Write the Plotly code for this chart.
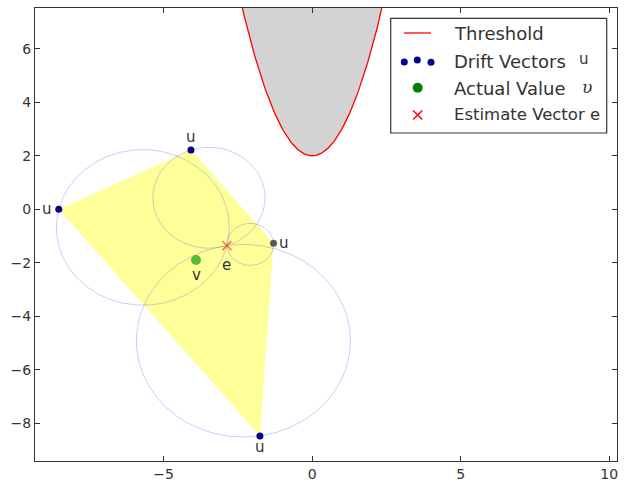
import numpy as np
import plotly.graph_objects as go

# ---------------- data ----------------
drift_x = [-8.53, -4.08, -1.30, -1.76]
drift_y = [0.00, 2.22, -1.27, -8.48]
drift_colors = ["#00008B", "#00008B", "#5a5a5a", "#00008B"]
actual_x = [-3.91]
actual_y = [-1.90]
estimate_x = [-2.87]
estimate_y = [-1.36]
threshold_a = 1.0   # threshold surface: y = a*x^2 + c
threshold_c = 2.0

x_ticks = [-5, 0, 5, 10]
y_ticks = [-8, -6, -4, -2, 0, 2, 4, 6]
x_range = [-9.33, 10.26]
y_range = [-9.42, 7.53]

FONT = "DejaVu Sans"
TXT = "#333333"

fig = go.Figure()

# threshold curve + gray infeasible region
tx = np.linspace(-2.7, 2.7, 241)
ty = threshold_a * tx ** 2 + threshold_c
fig.add_trace(go.Scatter(x=tx, y=ty, fill="toself", fillcolor="#d3d3d3",
                         mode="none", hoverinfo="skip", showlegend=False))
fig.add_trace(go.Scatter(x=tx, y=ty, mode="lines", line=dict(color="red", width=1.3),
                         hoverinfo="skip", showlegend=False))

# convex hull of drift vectors
fig.add_trace(go.Scatter(x=drift_x + [drift_x[0]], y=drift_y + [drift_y[0]],
                         fill="toself", fillcolor="rgba(255,255,0,0.4)", mode="none",
                         hoverinfo="skip", showlegend=False))

# local constraint balls: diameter from estimate e to each drift vector
theta = np.linspace(0, 2 * np.pi, 361)
for ux, uy in zip(drift_x, drift_y):
    cx = (ux + estimate_x[0]) / 2
    cy = (uy + estimate_y[0]) / 2
    r = np.hypot(ux - estimate_x[0], uy - estimate_y[0]) / 2
    fig.add_trace(go.Scatter(x=cx + r * np.cos(theta), y=cy + r * np.sin(theta),
                             mode="lines", line=dict(color="rgba(0,0,255,0.2)", width=1),
                             hoverinfo="skip", showlegend=False))

# points
fig.add_trace(go.Scatter(x=drift_x, y=drift_y, mode="markers",
                         marker=dict(color=drift_colors, size=7), showlegend=False))
fig.add_trace(go.Scatter(x=actual_x, y=actual_y, mode="markers",
                         marker=dict(color="rgba(0,150,0,0.65)", size=10), showlegend=False))
fig.add_trace(go.Scatter(x=estimate_x, y=estimate_y, mode="markers",
                         marker=dict(color="rgba(255,40,0,0.6)", size=9, symbol="x-thin",
                                     line=dict(color="rgba(255,40,0,0.6)", width=1.6)),
                         showlegend=False))

annotations = []
shifts = [(-12, 0), (0, 13), (10, 0), (0, -11)]
for (ux, uy), (dx, dy) in zip(zip(drift_x, drift_y), shifts):
    annotations.append(dict(x=ux, y=uy, text="u", showarrow=False, xshift=dx, yshift=dy,
                            font=dict(family=FONT, size=15, color=TXT)))
annotations.append(dict(x=actual_x[0], y=actual_y[0], text="v", showarrow=False, yshift=-15,
                        font=dict(family=FONT, size=15, color=TXT)))
annotations.append(dict(x=estimate_x[0], y=estimate_y[0], text="e", showarrow=False, yshift=-19,
                        font=dict(family=FONT, size=15, color=TXT)))

# ---------------- manual legend (overlay pixel axes) ----------------
PW, PH = 582, 453
shapes = [dict(type="rect", xref="x2", yref="y2", x0=355.7, x1=571.7, y0=10.3, y1=125,
               line=dict(color="#333333", width=1.2), fillcolor="white", layer="below"),
          dict(type="line", xref="x2", yref="y2", x0=369, x1=396, y0=25, y1=25,
               line=dict(color="red", width=1.3), layer="above")]
fig.add_trace(go.Scatter(x=[369.3, 382.3, 396], y=[54, 52, 54.3], xaxis="x2", yaxis="y2",
                         mode="markers", marker=dict(color="#00008B", size=7),
                         hoverinfo="skip", showlegend=False))
fig.add_trace(go.Scatter(x=[382.7], y=[79.7], xaxis="x2", yaxis="y2",
                         mode="markers", marker=dict(color="#008000", size=10),
                         hoverinfo="skip", showlegend=False))
fig.add_trace(go.Scatter(x=[382.7], y=[107], xaxis="x2", yaxis="y2",
                         mode="markers", marker=dict(color="red", size=9, symbol="x-thin",
                                                     line=dict(color="red", width=1.4)),
                         hoverinfo="skip", showlegend=False))
leg_items = [("Threshold", 416.7, 25, FONT, 18),
             ("Drift Vectors", 416.7, 53, FONT, 18),
             ("Actual Value", 416.7, 80, FONT, 18),
             ("Estimate Vector e", 416.7, 106, FONT, 16.5)]
for t, x, y, f, s in leg_items:
    annotations.append(dict(x=x, y=y, xref="x2", yref="y2", text=t, showarrow=False,
                            xanchor="left", yanchor="middle", font=dict(family=f, size=s, color=TXT)))
annotations.append(dict(x=542, y=51, xref="x2", yref="y2", text="u", showarrow=False,
                        xanchor="left", yanchor="middle", font=dict(family=FONT, size=15, color=TXT)))
annotations.append(dict(x=545, y=79, xref="x2", yref="y2", text="<i>υ</i>", showarrow=False,
                        xanchor="left", yanchor="middle", font=dict(family="DejaVu Serif", size=17, color=TXT)))

axis_common = dict(showgrid=False, zeroline=False, showline=True, linecolor="#333333",
                   linewidth=1.3, mirror="ticks", ticks="inside", ticklen=5, tickcolor="#333333",
                   tickfont=dict(family=FONT, size=14, color=TXT))

fig.update_layout(
    width=630, height=499,
    margin=dict(l=35, r=13, t=8, b=38),
    paper_bgcolor="white", plot_bgcolor="white",
    xaxis=dict(range=x_range, tickvals=x_ticks, **axis_common),
    yaxis=dict(range=y_range, tickvals=y_ticks, **axis_common),
    xaxis2=dict(range=[0, PW], overlaying="x", visible=False, fixedrange=True),
    yaxis2=dict(range=[PH, 0], overlaying="y", visible=False, fixedrange=True),
    shapes=shapes, annotations=annotations, showlegend=False,
)

fig.write_html("out.html")
